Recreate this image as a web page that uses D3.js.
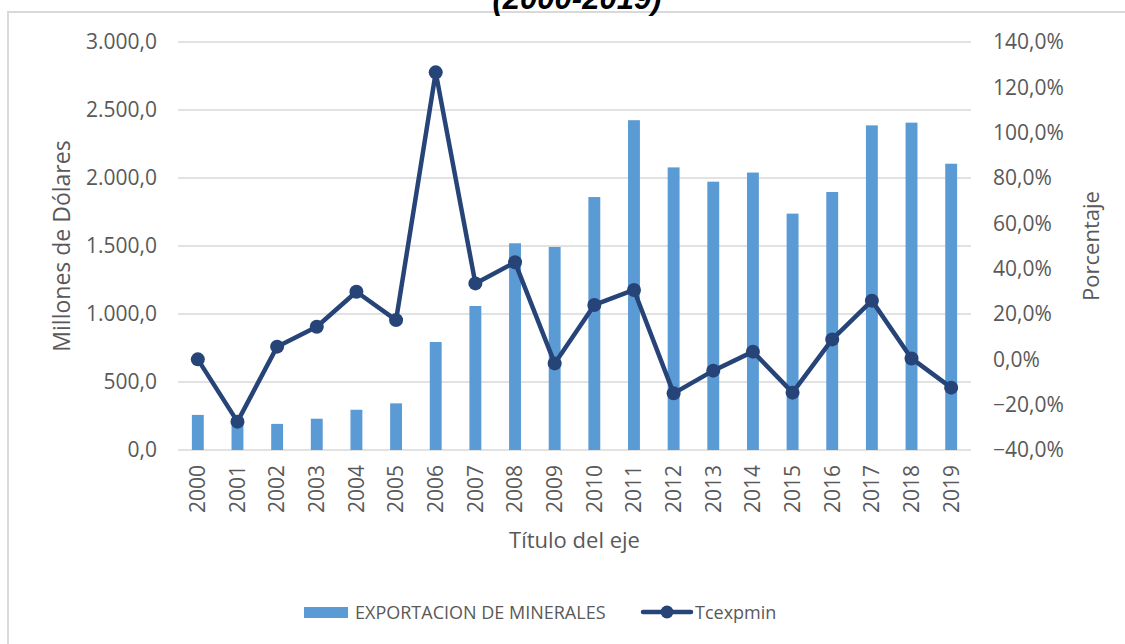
<!DOCTYPE html>
<html>
<head>
<meta charset="utf-8">
<script src="https://cdn.jsdelivr.net/npm/d3@7"></script>
<style>
  body { margin: 0; background: #fff; }
  text { font-family: "Open Sans", sans-serif; fill: #595959; }
</style>
</head>
<body>
<div id="chart"></div>
<script>
// data
const years = ["2000", "2001", "2002", "2003", "2004", "2005", "2006", "2007", "2008", "2009",
  "2010", "2011", "2012", "2013", "2014", "2015", "2016", "2017", "2018", "2019"];
// EXPORTACION DE MINERALES (millones de dólares)
const exportaciones = [258, 235, 192, 230, 296, 343, 794, 1059, 1520, 1493,
  1860, 2425, 2078, 1973, 2040, 1738, 1897, 2387, 2407, 2105];
// Tcexpmin (tasa de crecimiento)
const tcexpmin = [0.0, -0.275, 0.056, 0.144, 0.298, 0.173, 1.266, 0.335, 0.428, -0.018,
  0.24, 0.306, -0.15, -0.05, 0.034, -0.147, 0.088, 0.259, 0.004, -0.125];
const leftTicks = [0, 500, 1000, 1500, 2000, 2500, 3000];
const rightTicks = [-0.4, -0.2, 0, 0.2, 0.4, 0.6, 0.8, 1.0, 1.2, 1.4];

const W = 1125, H = 644;
const plot = { left: 178, right: 971, top: 42, bottom: 450 };
const barColor = "#5b9bd5", lineColor = "#264478", gridColor = "#d9d9d9";

const esLocale = d3.formatLocale({ decimal: ",", thousands: ".", grouping: [3], currency: ["", ""] });
const fmtLeft = esLocale.format(",.1f");
const fmtRight = esLocale.format(".1%");

const svg = d3.select("#chart").append("svg")
  .attr("width", W)
  .attr("height", H);

svg.append("rect").attr("width", W).attr("height", H).attr("fill", "#fff");

// chart border (runs off the right and bottom)
svg.append("rect")
  .attr("x", 8).attr("y", 12)
  .attr("width", W).attr("height", H)
  .attr("fill", "none")
  .attr("stroke", gridColor)
  .attr("stroke-width", 2);

// title, cut off at the top like in the source
svg.append("text")
  .attr("x", 577).attr("y", 9)
  .attr("text-anchor", "middle")
  .style("font-family", "'Liberation Sans', Arial, sans-serif")
  .style("font-weight", "bold")
  .style("font-style", "italic")
  .style("font-size", "31px")
  .style("fill", "#000")
  .text("(2000-2019)");

// scales
const x = d3.scaleBand()
  .domain(years)
  .range([plot.left, plot.right])
  .paddingInner(0.7)
  .paddingOuter(0.35);
const yLeft = d3.scaleLinear().domain([0, 3000]).range([plot.bottom, plot.top]);
const yRight = d3.scaleLinear().domain([-0.4, 1.4]).range([plot.bottom, plot.top]);

// gridlines
svg.append("g")
  .selectAll("line")
  .data(leftTicks)
  .enter()
  .append("line")
  .attr("x1", plot.left).attr("x2", plot.right)
  .attr("y1", d => yLeft(d)).attr("y2", d => yLeft(d))
  .attr("stroke", gridColor)
  .attr("stroke-width", 1.5);

// left axis
const gLeft = svg.append("g")
  .attr("transform", `translate(${plot.left},0)`)
  .call(d3.axisLeft(yLeft).tickValues(leftTicks).tickSize(0).tickPadding(21).tickFormat(fmtLeft));
gLeft.select(".domain").remove();
gLeft.selectAll("text").style("font-size", "21px").style("font-family", "'Open Sans', sans-serif").attr("fill", "#595959");

// right axis
const gRight = svg.append("g")
  .attr("transform", `translate(${plot.right},0)`)
  .call(d3.axisRight(yRight).tickValues(rightTicks).tickSize(0).tickPadding(22).tickFormat(fmtRight));
gRight.select(".domain").remove();
gRight.selectAll("text").style("font-size", "21px").style("font-family", "'Open Sans', sans-serif").attr("fill", "#595959");

// bottom axis (rotated year labels)
const gBottom = svg.append("g")
  .attr("transform", `translate(0,${plot.bottom})`)
  .call(d3.axisBottom(x).tickSize(0));
gBottom.select(".domain").remove();
gBottom.selectAll("text")
  .style("font-size", "21px")
  .style("font-family", "'Open Sans', sans-serif")
  .attr("fill", "#595959")
  .attr("text-anchor", "end")
  .attr("transform", "rotate(-90)")
  .attr("x", -15)
  .attr("y", 0)
  .attr("dy", "0.35em");

// bars
svg.append("g")
  .selectAll("rect")
  .data(years)
  .enter()
  .append("rect")
  .attr("x", d => x(d))
  .attr("y", (d, i) => yLeft(exportaciones[i]))
  .attr("width", x.bandwidth())
  .attr("height", (d, i) => yLeft(0) - yLeft(exportaciones[i]))
  .attr("fill", barColor);

// line + markers
const cx = d => x(d) + x.bandwidth() / 2;
const line = d3.line()
  .x(d => cx(d))
  .y((d, i) => yRight(tcexpmin[i]));

svg.append("path")
  .datum(years)
  .attr("d", line)
  .attr("fill", "none")
  .attr("stroke", lineColor)
  .attr("stroke-width", 4.5)
  .attr("stroke-linejoin", "round");

svg.append("g")
  .selectAll("circle")
  .data(years)
  .enter()
  .append("circle")
  .attr("cx", d => cx(d))
  .attr("cy", (d, i) => yRight(tcexpmin[i]))
  .attr("r", 7)
  .attr("fill", lineColor);

// axis titles
svg.append("text")
  .attr("transform", `translate(62,${(plot.top + plot.bottom) / 2}) rotate(-90)`)
  .attr("text-anchor", "middle")
  .attr("dy", "0.35em")
  .style("font-size", "23px")
  .text("Millones de Dólares");

svg.append("text")
  .attr("transform", `translate(1091,${(plot.top + plot.bottom) / 2}) rotate(-90)`)
  .attr("text-anchor", "middle")
  .attr("dy", "0.35em")
  .style("font-size", "22px")
  .text("Porcentaje");

svg.append("text")
  .attr("x", (plot.left + plot.right) / 2)
  .attr("y", 548)
  .attr("text-anchor", "middle")
  .style("font-size", "22px")
  .text("Título del eje");

// legend
const legend = svg.append("g");
legend.append("rect")
  .attr("x", 304).attr("y", 607)
  .attr("width", 44).attr("height", 11)
  .attr("fill", barColor);
legend.append("text")
  .attr("x", 355).attr("y", 619)
  .style("font-size", "18px")
  .text("EXPORTACION DE MINERALES");
legend.append("line")
  .attr("x1", 643).attr("x2", 691)
  .attr("y1", 612).attr("y2", 612)
  .attr("stroke", lineColor)
  .attr("stroke-width", 4.5)
  .attr("stroke-linecap", "round");
legend.append("circle")
  .attr("cx", 667).attr("cy", 612)
  .attr("r", 6.5)
  .attr("fill", lineColor);
legend.append("text")
  .attr("x", 695).attr("y", 619)
  .style("font-size", "18px")
  .text("Tcexpmin");
</script>
</body>
</html>
